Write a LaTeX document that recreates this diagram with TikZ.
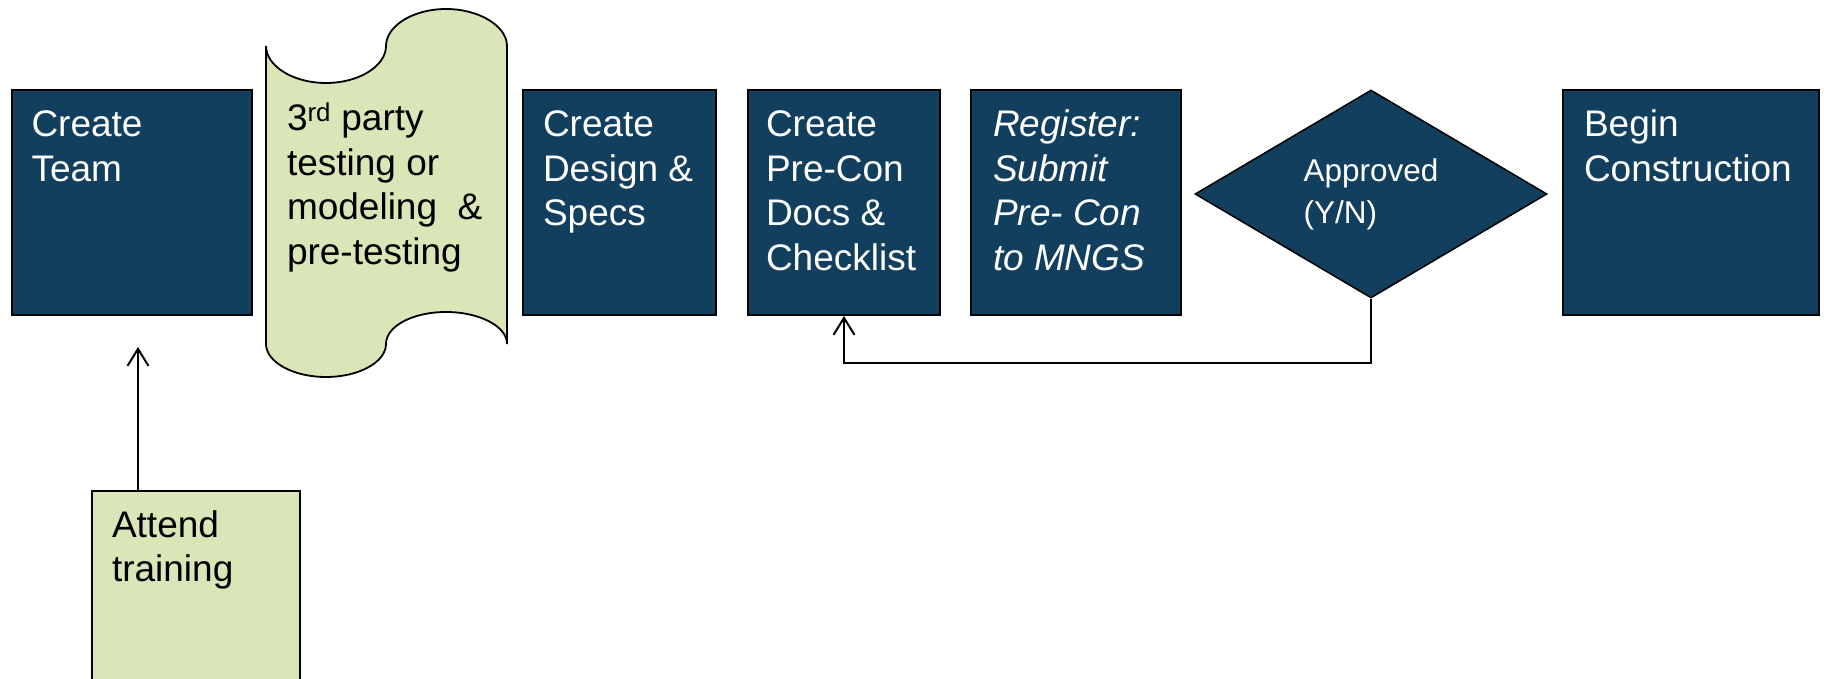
\documentclass[tikz,border=0pt]{standalone}
\usepackage{fontspec}
\setmainfont{Liberation Sans}
\usetikzlibrary{positioning,shapes.geometric,arrows.meta}

\definecolor{navy}{HTML}{133F5E}
\definecolor{sage}{HTML}{DAE6B8}

\tikzset{every picture/.style={line width=2pt}}
\tikzset{
  stepbox/.style={draw=black, fill=navy, rectangle, inner sep=0pt, anchor=north west, minimum height=224.5pt},
  greenbox/.style={stepbox, fill=sage},
  boxtext/.style={inner sep=0pt, align=left, text=white, font=\fontsize{37}{44.5}\selectfont},
  darktext/.style={boxtext, text=black},
  decide/.style={diamond, draw=black, fill=navy, line width=1.5pt, aspect=1.68, inner sep=0pt,
    minimum width=352pt, minimum height=208pt, align=left, text=white, font=\fontsize{31.5}{42}\selectfont},
  arr/.style={-{Straight Barb[length=17pt,width=21pt]}, line width=2pt},
}

\begin{document}
\begin{tikzpicture}[x=1pt,y=-1pt]
\useasboundingbox (0,0) rectangle (1824,679);
\clip (0,0) rectangle (1824,679);

% top row of steps
\node[stepbox, minimum width=240.5pt] (team) at (10.5,89.5) {};
\node[stepbox, minimum width=193pt] (design) at (522,89.5) {};
\node[stepbox, minimum width=192pt] (precon) at (747,89.5) {};
\node[stepbox, minimum width=210pt] (register) at (970,89.5) {};
\node[decide] (ok) at (1371,194) {Approved\\(Y/N)};
\node[stepbox, minimum width=256pt] (begin) at (1562,89.5) {};

% punched tape
\draw [fill=sage, line width=1.8pt]
  (266,46) .. controls (266,66) and (293,83) .. (326,83)
  .. controls (359,83) and (386,66) .. (386,46)
  .. controls (386,26) and (413,9) .. (446,9)
  .. controls (479,9) and (507,26) .. (507,46)
  -- (507,344)
  .. controls (507,326) and (479,312) .. (446,312)
  .. controls (413,312) and (386,326) .. (386,344)
  .. controls (386,362) and (359,377) .. (326,377)
  .. controls (293,377) and (266,362) .. (266,344) -- cycle ;

% training, runs off the bottom
\node[greenbox, minimum width=208pt, minimum height=240pt] (train) at (91,490) {};

% texts
\node[boxtext, below right=15pt and 20pt of team.north west] (teamtxt) {\strut Create\\Team};
\node[darktext, anchor=north west] (tapetxt) at (286,98.5) {\strut 3\textsuperscript{rd} party\\testing or\\modeling \ \&\\pre-testing};
\node[boxtext, below right=15pt and 20pt of design.north west] (designtxt) {\strut Create\\Design \&\\Specs};
\node[boxtext, below right=15pt and 18pt of precon.north west] (precontxt) {\strut Create\\Pre-Con\\Docs \&\\Checklist};
\node[boxtext, font=\fontsize{37}{44.5}\selectfont\itshape, below right=15pt and 22pt of register.north west] (registertxt) {\strut Register:\\Submit\\Pre- Con\\to MNGS};
\node[boxtext, below right=15pt and 21pt of begin.north west] (begintxt) {\strut Begin\\Construction};
\node[darktext, below right=15pt and 20pt of train.north west] (traintxt) {\strut Attend\\training};

% connectors
\coordinate (teamin) at (138,347);
\draw[arr] (teamin |- train.north) -- (teamin);
\draw[arr] (ok.south) -- ++(0,64) -| (precon.south);

\end{tikzpicture}
\end{document}
